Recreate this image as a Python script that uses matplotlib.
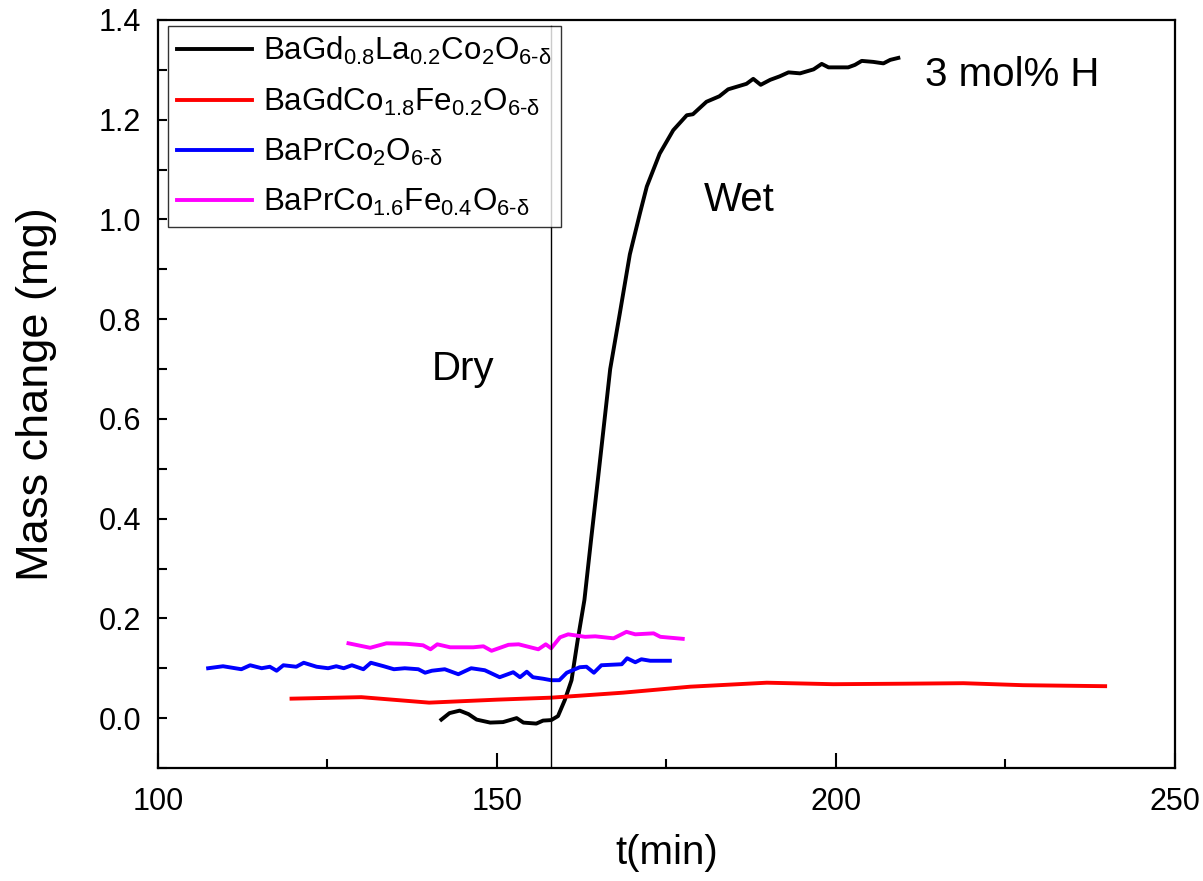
import matplotlib
matplotlib.use('Agg')
import matplotlib.pyplot as plt
from matplotlib.ticker import MultipleLocator, FormatStrFormatter

# Data -------------------------------------------------------------------------
t_bglc = [141.8, 143.0, 144.5, 145.8, 147.0, 149.0, 150.9, 152.9, 153.9, 155.8,
          156.8, 158.0, 159.0, 160.0, 161.0, 161.9, 162.9, 163.9, 164.9, 165.8,
          166.7, 168.1, 169.6, 171.1, 172.1, 174.0, 176.0, 178.0, 178.9, 180.9,
          182.8, 184.1, 186.8, 187.8, 188.9, 190.3, 191.7, 193.0, 194.7, 196.7,
          197.9, 198.9, 201.8, 202.8, 203.8, 205.5, 207.0, 208.0, 209.2]
m_bglc = [-0.003, 0.010, 0.015, 0.008, -0.003, -0.009, -0.008, 0.000, -0.009, -0.011,
          -0.005, -0.004, 0.004, 0.036, 0.076, 0.156, 0.237, 0.360, 0.480, 0.590,
          0.700, 0.810, 0.930, 1.013, 1.066, 1.132, 1.179, 1.209, 1.211, 1.236,
          1.247, 1.261, 1.272, 1.282, 1.270, 1.280, 1.287, 1.295, 1.293, 1.301,
          1.312, 1.305, 1.305, 1.310, 1.318, 1.316, 1.313, 1.320, 1.324]

t_bgcf = [119.7, 130, 140, 150, 158, 168.6, 178.5, 189.8, 199.6, 210, 218.8, 227.6, 239.7]
m_bgcf = [0.039, 0.042, 0.031, 0.037, 0.041, 0.051, 0.063, 0.071, 0.068, 0.069, 0.070, 0.066, 0.064]

t_bpc = [107.4, 109.6, 112.3, 113.6, 115.3, 116.5, 117.5, 118.5, 120.4, 121.5,
         123.4, 125.1, 126.3, 127.4, 128.6, 130.3, 131.4, 133.3, 134.8, 136.4,
         138.4, 139.4, 140.4, 142.3, 144.3, 146.2, 148.2, 150.4, 152.4, 153.4,
         154.4, 155.3, 156.8, 158.0, 159.2, 160.3, 162.2, 163.2, 164.3, 165.4,
         168.4, 169.2, 170.4, 171.3, 172.6, 175.5]
m_bpc = [0.100, 0.104, 0.098, 0.106, 0.100, 0.103, 0.095, 0.106, 0.103, 0.111,
         0.103, 0.100, 0.104, 0.100, 0.106, 0.098, 0.111, 0.104, 0.098, 0.100,
         0.098, 0.091, 0.095, 0.098, 0.088, 0.100, 0.096, 0.082, 0.092, 0.082,
         0.093, 0.082, 0.079, 0.076, 0.076, 0.091, 0.102, 0.103, 0.091, 0.106,
         0.108, 0.120, 0.112, 0.118, 0.115, 0.115]

t_bpcf = [128.1, 131.3, 133.7, 136.7, 139.1, 140.2, 141.2, 143.1, 146.5, 148.0,
          149.2, 151.7, 153.2, 156.1, 157.2, 158.0, 159.3, 160.5, 163.0, 164.5,
          167.2, 169.1, 170.4, 173.1, 174.1, 177.4]
m_bpcf = [0.150, 0.141, 0.150, 0.149, 0.146, 0.138, 0.148, 0.142, 0.142, 0.144,
          0.135, 0.147, 0.148, 0.138, 0.148, 0.140, 0.162, 0.168, 0.163, 0.164,
          0.160, 0.173, 0.168, 0.170, 0.163, 0.159]

labels = [r'BaGd$_{0.8}$La$_{0.2}$Co$_{2}$O$_{6\text{-}\delta}$',
          r'BaGdCo$_{1.8}$Fe$_{0.2}$O$_{6\text{-}\delta}$',
          r'BaPrCo$_{2}$O$_{6\text{-}\delta}$',
          r'BaPrCo$_{1.6}$Fe$_{0.4}$O$_{6\text{-}\delta}$']
colors = ['black', '#ff0000', '#0000ff', '#ff00ff']
t_switch = 158.0

# Style ------------------------------------------------------------------------
plt.rcParams['font.family'] = ['Liberation Sans', 'DejaVu Sans']
plt.rcParams['mathtext.fontset'] = 'custom'
plt.rcParams['mathtext.rm'] = 'Liberation Sans'
plt.rcParams['mathtext.it'] = 'Liberation Sans'
plt.rcParams['mathtext.default'] = 'regular'

fig = plt.figure(figsize=(12.03, 8.81), dpi=100)
ax = fig.add_axes([0.1313, 0.1283, 0.8454, 0.849])

series = [(t_bglc, m_bglc), (t_bgcf, m_bgcf), (t_bpc, m_bpc), (t_bpcf, m_bpcf)]
for (t, m), lab, c in zip(series, labels, colors):
    ax.plot(t, m, color=c, lw=2.8, label=lab)

ax.axvline(t_switch, ymin=0, ymax=0.992, color='black', lw=1)

ax.set_xlim(100, 250)
ax.set_ylim(-0.1, 1.4)
ax.xaxis.set_major_locator(MultipleLocator(50))
ax.xaxis.set_minor_locator(MultipleLocator(25))
ax.yaxis.set_major_locator(MultipleLocator(0.2))
ax.yaxis.set_minor_locator(MultipleLocator(0.1))
ax.yaxis.set_major_formatter(FormatStrFormatter('%.1f'))
ax.tick_params(axis='both', which='both', direction='in', width=1.5, labelsize=22)
ax.tick_params(axis='x', which='major', length=11, pad=14)
ax.tick_params(axis='x', which='minor', length=6.5)
ax.tick_params(axis='y', which='both', length=6.5, pad=12)
for sp in ax.spines.values():
    sp.set_linewidth(1.6)

ax.set_xlabel('t(min)', fontsize=29, labelpad=12)
ax.set_ylabel('Mass change (mg)', fontsize=32.5, labelpad=30)

ax.text(145.0, 0.70, 'Dry', fontsize=29, ha='center', va='center')
ax.text(185.8, 1.04, 'Wet', fontsize=29, ha='center', va='center')
ax.text(226.0, 1.29, '3 mol% H', fontsize=29, ha='center', va='center')

leg = ax.legend(loc='upper left', bbox_to_anchor=(0.0098, 0.992), fontsize=22.5,
                frameon=True, fancybox=False, handlelength=2.4, handletextpad=0.35,
                borderpad=0.3, labelspacing=0.6, borderaxespad=0)
leg.get_frame().set_edgecolor('black')
leg.get_frame().set_linewidth(1.0)

fig.savefig('out.png', dpi=100)
